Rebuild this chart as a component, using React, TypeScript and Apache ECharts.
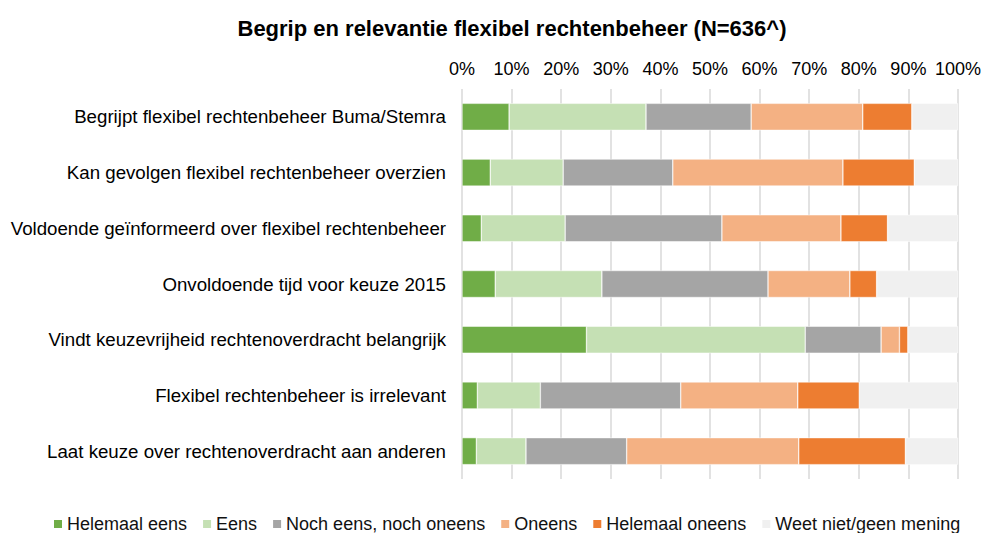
import React, { useEffect, useRef } from "react";
import * as echarts from "echarts";

const categories = [
  "Begrijpt flexibel rechtenbeheer Buma/Stemra",
  "Kan gevolgen flexibel rechtenbeheer overzien",
  "Voldoende geïnformeerd over flexibel rechtenbeheer",
  "Onvoldoende tijd voor keuze 2015",
  "Vindt keuzevrijheid rechtenoverdracht belangrijk",
  "Flexibel rechtenbeheer is irrelevant",
  "Laat keuze over rechtenoverdracht aan anderen",
];

const seriesNames = [
  "Helemaal eens",
  "Eens",
  "Noch eens, noch oneens",
  "Oneens",
  "Helemaal oneens",
  "Weet niet/geen mening",
];

const helemaalEens = [9.5, 5.7, 3.9, 6.7, 25.1, 3.1, 2.9];
const eens = [27.6, 14.7, 16.9, 21.5, 44.1, 12.7, 10.0];
const noch = [21.2, 22.1, 31.6, 33.5, 15.3, 28.3, 20.3];
const oneens = [22.5, 34.3, 24.0, 16.5, 3.7, 23.6, 34.7];
const helemaalOneens = [9.9, 14.4, 9.4, 5.4, 1.7, 12.4, 21.5];
const weetNiet = [9.3, 8.8, 14.2, 16.4, 10.1, 19.9, 10.6];

const colors = ["#70AD47", "#C5E0B4", "#A5A5A5", "#F4B183", "#ED7D31", "#F0F0F0"];

const FONT = "'Liberation Sans', Arial, sans-serif";

export default function App() {
  const ref = useRef<HTMLDivElement>(null);
  useEffect(() => {
    if (!ref.current) return;
    const chart = echarts.init(ref.current, undefined, { renderer: "svg" });
    const data = [helemaalEens, eens, noch, oneens, helemaalOneens, weetNiet];
    chart.setOption({
      animation: false,
      textStyle: { fontFamily: FONT },
      title: {
        text: "Begrip en relevantie flexibel rechtenbeheer (N=636^)",
        left: 507,
        textAlign: "center",
        top: 12,
        textStyle: { fontFamily: FONT, fontSize: 22, fontWeight: "bold", color: "#000" },
      },
      legend: {
        data: seriesNames,
        top: 515,
        left: 52,
        padding: 0,
        icon: "rect",
        itemWidth: 10,
        itemHeight: 10,
        itemGap: 14,
        textStyle: {
          fontFamily: FONT,
          fontSize: 18,
          color: "#111",
          padding: [0, 0, 0, -1],
          lineHeight: 18,
        },
      },
      grid: { left: 462, right: 26, top: 89, bottom: 54 },
      xAxis: {
        type: "value",
        position: "top",
        min: 0,
        max: 100,
        interval: 10,
        axisLabel: {
          formatter: "{value}%",
          fontFamily: FONT,
          fontSize: 18,
          color: "#000",
          margin: 11,
        },
        axisLine: { show: false },
        axisTick: { show: false },
        splitLine: { show: true, lineStyle: { color: "#D9D9D9", width: 1.5 } },
      },
      yAxis: {
        type: "category",
        data: categories,
        inverse: true,
        axisLabel: { fontFamily: FONT, fontSize: 18.7, color: "#000", margin: 16 },
        axisLine: { show: false },
        axisTick: { show: false },
      },
      series: seriesNames.map((name, i) => ({
        name,
        type: "bar",
        stack: "total",
        barWidth: 27,
        data: data[i],
        itemStyle: { color: colors[i], borderColor: "#fff", borderWidth: 0.5 },
      })),
    });
    return () => chart.dispose();
  }, []);
  return (
    <div
      ref={ref}
      style={{ position: "absolute", left: 0, top: 0, width: 984, height: 533 }}
    />
  );
}
